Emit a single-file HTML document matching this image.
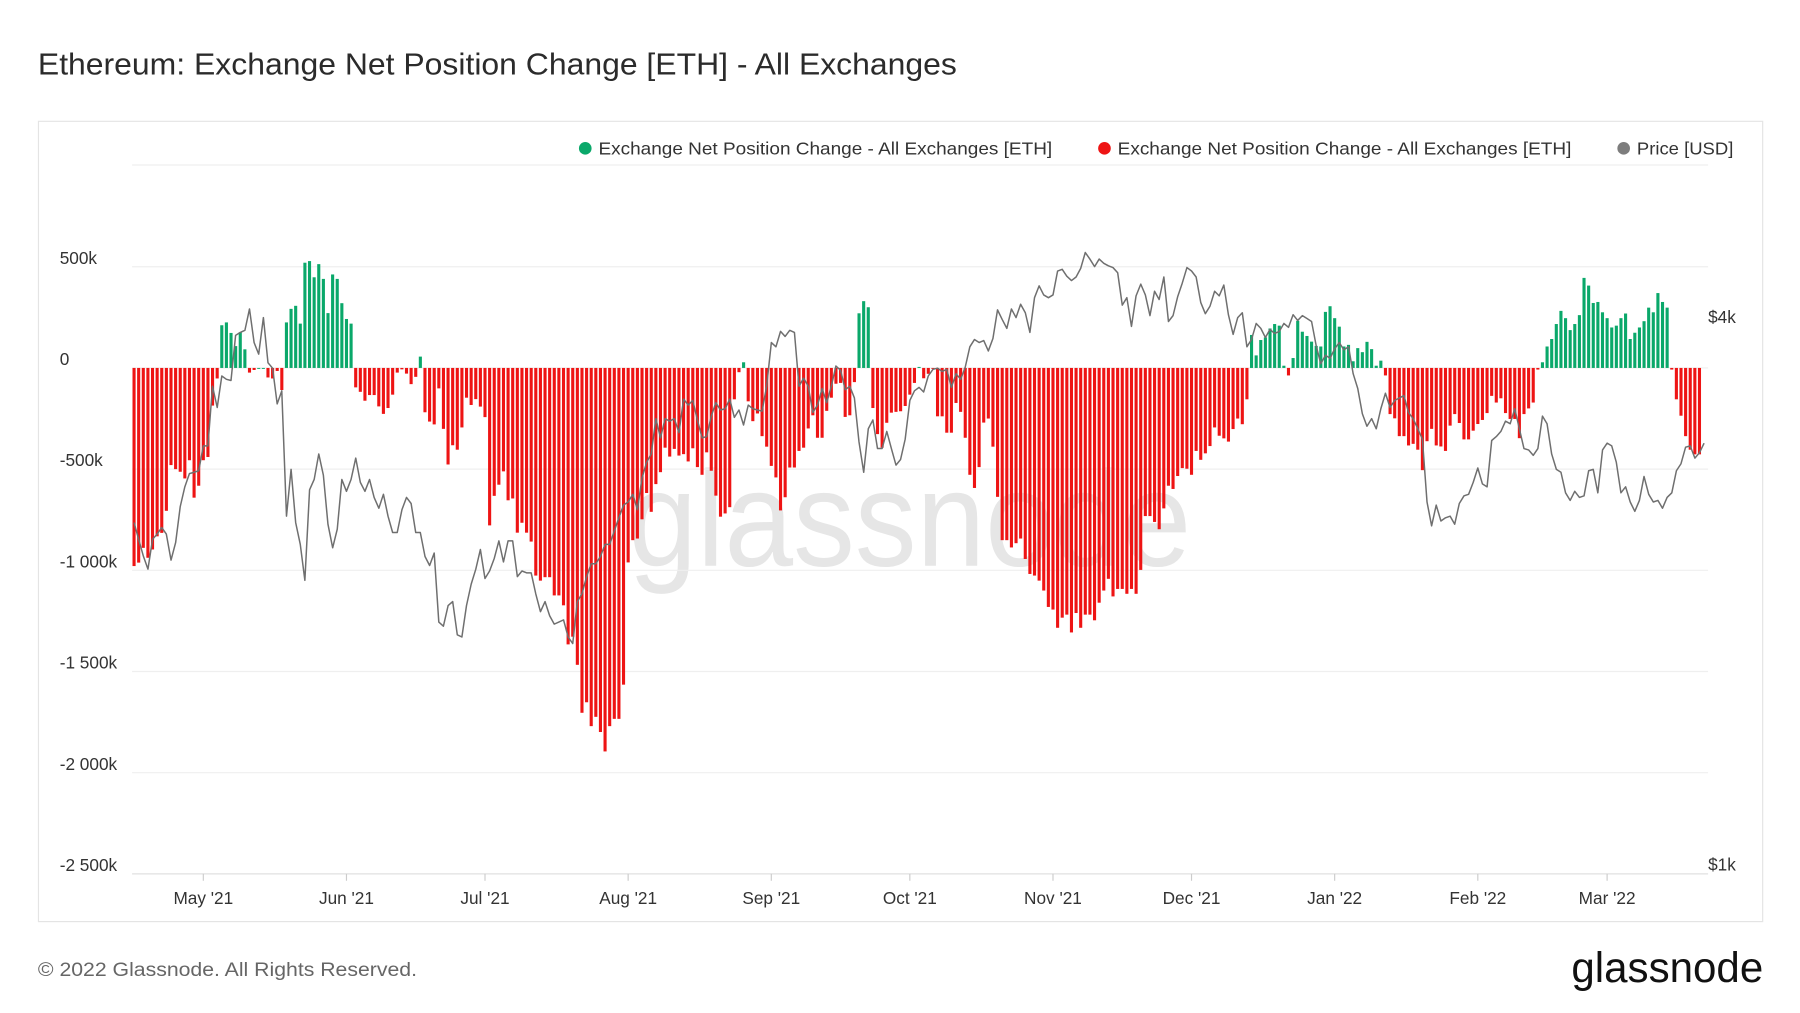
<!DOCTYPE html>
<html><head><meta charset="utf-8">
<style>
html,body{margin:0;padding:0;background:#fff;}
svg{display:block;font-family:"Liberation Sans",sans-serif;}
</style></head>
<body>
<svg id="chart" width="1800" height="1013" viewBox="0 0 1567 881" preserveAspectRatio="none" xmlns="http://www.w3.org/2000/svg">
<rect x="0" y="0" width="1567" height="881" fill="#fff"/>
<text x="33" y="65" font-size="26.5" fill="#2b2b2b" textLength="800" lengthAdjust="spacingAndGlyphs">Ethereum: Exchange Net Position Change [ETH] - All Exchanges</text>
<rect x="33.5" y="105.5" width="1501" height="696" fill="#fff" stroke="#e4e4e4" stroke-width="1"/>
<text x="792" y="492" font-size="118" fill="#e6e6e6" text-anchor="middle" textLength="490" lengthAdjust="spacingAndGlyphs">glassnode</text>
<g id="grid"></g>
<g id="bars"></g>
<g id="priceg"></g>
<g id="axes"></g>
<g font-size="15.5" fill="#333">
  <g><circle cx="509.5" cy="129" r="5.5" fill="#0aa86a"/><text x="521" y="134.5" textLength="395" lengthAdjust="spacingAndGlyphs">Exchange Net Position Change - All Exchanges [ETH]</text></g>
  <g><circle cx="961.5" cy="129" r="5.5" fill="#ee1414"/><text x="973" y="134.5" textLength="395" lengthAdjust="spacingAndGlyphs">Exchange Net Position Change - All Exchanges [ETH]</text></g>
  <g><circle cx="1413.5" cy="129" r="5.5" fill="#7d7d7d"/><text x="1425" y="134.5" textLength="84" lengthAdjust="spacingAndGlyphs">Price [USD]</text></g>
</g>
<text x="33" y="849" font-size="17" fill="#666" textLength="330" lengthAdjust="spacingAndGlyphs">© 2022 Glassnode. All Rights Reserved.</text>
<text x="1368" y="854" font-size="37" fill="#111" textLength="167" lengthAdjust="spacingAndGlyphs">glassnode</text>
</svg>
<script>
const netChange = [-979,-962,-889,-938,-897,-832,-815,-706,-480,-500,-513,-546,-456,-641,-582,-456,-440,-186,-52,211,
225,173,108,176,92,-23,-10,0,0,-47,-52,-15,-109,225,292,307,219,520,528,448,
513,440,271,462,440,320,242,219,-96,-118,-162,-134,-134,-190,-227,-198,-132,-23,-7,-28,
-80,-44,56,-219,-265,-279,-101,-301,-477,-382,-404,-294,-147,-183,-154,-191,-243,-778,-632,-577,
-511,-654,-645,-814,-765,-814,-858,-1026,-1051,-1034,-1034,-1124,-1124,-1173,-1366,-1328,-1467,-1704,-1652,-1770,
-1724,-1799,-1895,-1770,-1734,-1734,-1565,-961,-851,-843,-748,-618,-711,-574,-515,-394,-438,-400,-433,-426,
-462,-397,-490,-528,-417,-508,-631,-735,-719,-688,-155,-21,28,-165,-263,-225,-337,-389,-484,-541,
-704,-639,-492,-492,-410,-394,-299,-234,-345,-345,-212,-147,-78,-74,-242,-234,-70,270,330,300,
-198,-327,-394,-271,-221,-217,-214,-188,-132,-74,5,-51,-29,-2,-239,-239,-320,-320,-173,-217,
-345,-528,-593,-490,-270,-250,-389,-637,-851,-851,-887,-866,-843,-944,-1018,-1026,-1051,-1100,-1181,-1194,
-1284,-1234,-1219,-1307,-1211,-1284,-1219,-1219,-1247,-1160,-1100,-1042,-1129,-1092,-1092,-1116,-1092,-1116,-998,-732,
-732,-761,-797,-694,-582,-598,-534,-495,-498,-528,-410,-454,-422,-386,-294,-335,-348,-364,-302,-250,
-278,-155,163,62,138,151,195,217,209,11,-37,49,233,179,158,130,109,106,277,305,
246,204,106,114,33,98,78,129,93,11,36,-37,-228,-249,-337,-337,-383,-375,-404,-505,
-362,-301,-383,-388,-410,-285,-228,-272,-353,-353,-310,-277,-257,-223,-138,-171,-150,-223,-252,-252,
-347,-228,-200,-171,-8,28,106,143,217,282,246,187,217,261,445,407,321,326,275,246,
200,209,246,269,143,174,200,231,298,275,370,326,298,-8,-155,-236,-337,-404,-427,-427];
const priceUSD = [2430,2330,2235,2160,2330,2360,2400,2360,2210,2310,2530,2660,2750,2760,2770,
2950,2950,3430,3250,3520,3490,3480,3900,3930,3950,4170,3830,3720,4080,3640,3590,3280,3390,2470,2780,2430,2300,2100,2640,2710,2890,2740,2420,2280,2390,2710,
2630,2710,2860,2690,2630,2710,2590,2520,2610,2470,2370,2370,2510,2590,2550,2370,2370,2230,2180,2250,1890,1870,1970,1990,1830,1820,1970,2080,2160,2270,
2110,2150,2220,2320,2200,2320,2320,2120,2150,2140,2140,2030,1940,1990,1920,1880,1890,1900,1820,1790,1990,2030,2120,2190,2190,2230,2300,2300,2380,2460,2540,
2560,2610,2510,2720,2830,2890,3160,3010,3160,3140,3160,3050,3320,3270,3310,3150,3010,3020,3180,3290,3230,3240,3320,3170,3230,3110,3270,3240,3230,3220,3430,
3830,3790,3940,3890,3950,3930,3430,3500,3430,3210,3270,3410,3290,3430,3610,3570,3400,3430,3330,2980,2760,3080,3150,2930,2930,3060,2930,2810,2850,3000,
3310,3390,3420,3380,3520,3580,3590,3560,3580,3420,3540,3490,3600,3790,3860,3830,3850,3750,3870,4160,4060,3970,4170,4080,4220,4130,3930,4290,4420,4320,4290,
4320,4590,4610,4530,4480,4520,4620,4810,4730,4640,4730,4680,4650,4630,4570,4210,4290,3990,4310,4440,4320,4100,4360,4270,4520,4040,4100,4300,4450,4630,
4590,4520,4240,4120,4200,4360,4310,4430,4110,3910,4080,4130,3790,3860,4020,3970,3880,3960,3920,3940,4020,3980,4110,4050,4100,4070,4040,3800,3630,3710,3680,
3770,3830,3760,3790,3540,3410,3200,3100,3160,3080,3240,3370,3250,3310,3330,3350,3210,3160,3080,3000,2560,2410,2540,2440,2460,2470,2420,2550,2600,2610,2690,
2790,2680,2660,2990,3020,3060,3140,3120,3240,3080,2930,2920,2880,2930,3180,3120,2890,2780,2760,2620,2570,2630,2590,2600,2770,2780,2620,2920,
2970,2950,2830,2620,2660,2560,2500,2570,2730,2610,2560,2570,2520,2590,2620,2770,2820,2940,2950,2860,2900,2970];
const yTickValues = [500,0,-500,-1000,-1500,-2000,-2500];
const yTickLabels = ["500k","0","-500k","-1 000k","-1 500k","-2 000k","-2 500k"];
const monthLabels = ["May '21","Jun '21","Jul '21","Aug '21","Sep '21","Oct '21","Nov '21","Dec '21","Jan '22","Feb '22","Mar '22"];
const monthDayIndex = [15,46,76,107,138,168,199,229,260,291,319];
const priceTickValues = [4000,1000];
const priceTickLabels = ["$4k","$1k"];

const NS="http://www.w3.org/2000/svg";
const X0=116.7, DX=4.02, PL=115, PR=1487;
function xScale(i){return X0+i*DX;}
function yScale(v){return 320 - v/500*88;}
function pScale(p){return 760 - 477*Math.log(p/1000)/Math.log(4);}
function mk(tag,attrs,parent){const e=document.createElementNS(NS,tag);for(const k in attrs)e.setAttribute(k,attrs[k]);parent.appendChild(e);return e;}

const grid=document.getElementById('grid');
const gl0=mk('line',{x1:PL,x2:PR,y1:143.5,y2:143.5,stroke:'#efefef','stroke-width':1},grid);


const axes=document.getElementById('axes');
yTickValues.forEach((v,i)=>{
  const y=yScale(v);
  const l=mk('line',{x1:PL,x2:PR,y1:y,y2:y,stroke:v===-2500?'#e0e0e0':'#efefef','stroke-width':1},grid);
  
  
  const t=mk('text',{x:52,y:y-2.5,'font-size':15,fill:'#333'},axes);
  t.textContent=yTickLabels[i];
  
  
});
priceTickValues.forEach((p,i)=>{
  const t=mk('text',{x:1487,y:(i===0?281:757),'font-size':15,fill:'#333'},axes);
  t.textContent=priceTickLabels[i];
  
  
});
monthLabels.forEach((m,i)=>{
  const x=xScale(monthDayIndex[i]);
  const tk=mk('line',{x1:x,x2:x,y1:760,y2:766,stroke:'#ccc','stroke-width':1},axes);
  
  
  const t=mk('text',{x:x,y:786,'font-size':15,fill:'#333','text-anchor':'middle'},axes);
  t.textContent=m;
  
  
});
const bars=document.getElementById('bars');
netChange.forEach((v,i)=>{
  const x=xScale(i), y0=yScale(0), y1=yScale(v);
  const r=mk('rect',{x:x-1.35,width:2.7,y:Math.min(y0,y1),height:Math.max(0.8,Math.abs(y1-y0)),fill:v>=0?'#0aa86a':'#ee1414'},bars);
  
  
});
const pg=document.getElementById('priceg');
let d='';
priceUSD.forEach((p,i)=>{d+=(i?'L':'M')+xScale(i).toFixed(1)+' '+pScale(p).toFixed(1);});
const pl=mk('path',{d:d,fill:'none',stroke:'#6f6f6f','stroke-width':1.3,'stroke-linejoin':'round'},pg);


</script>
</body></html>
